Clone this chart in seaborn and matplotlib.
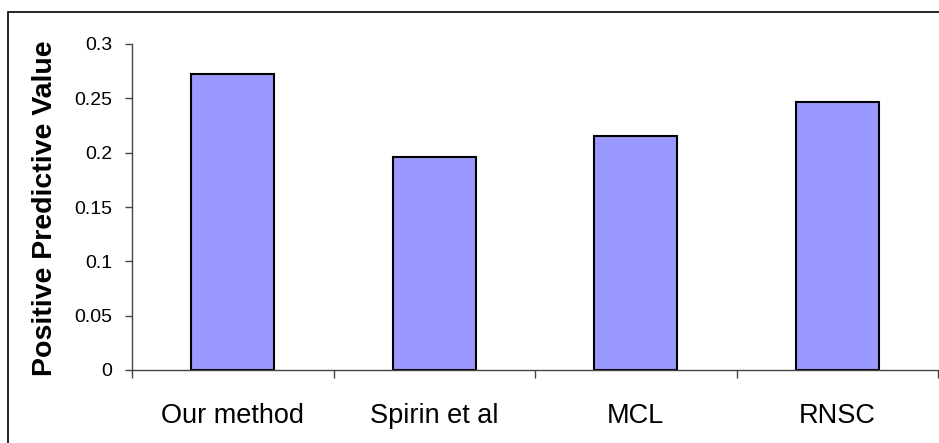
import matplotlib
matplotlib.use("Agg")
import matplotlib.pyplot as plt
import seaborn as sns
import numpy as np
from matplotlib.patches import Rectangle

categories = ["Our method", "Spirin et al", "MCL", "RNSC"]
ppv_values = [0.272, 0.196, 0.215, 0.247]
y_ticks = [0, 0.05, 0.1, 0.15, 0.2, 0.25, 0.3]
y_tick_labels = ["0", "0.05", "0.1", "0.15", "0.2", "0.25", "0.3"]
y_label = "Positive Predictive Value"

sns.set_style("white")
plt.rcParams["font.family"] = ["Liberation Sans", "DejaVu Sans"]

W, H = 939, 443
fig = plt.figure(figsize=(W / 100, H / 100), dpi=100)
ax = fig.add_axes([132 / W, 1 - 370 / H, 806 / W, (370 - 44) / H])

sns.barplot(x=categories, y=ppv_values, color="#9999FF", saturation=1,
            edgecolor="black", linewidth=1.5, width=0.41, ax=ax)

ax.set_xlim(-0.5, len(categories) - 0.5)
ax.set_ylim(0, 0.3)
ax.set_yticks(y_ticks)
ax.set_yticklabels(y_tick_labels)
ax.set_xticks(np.arange(len(categories)))
ax.set_xticklabels(categories)
ax.set_xticks(np.arange(len(categories) + 1) - 0.5, minor=True)

ax.tick_params(axis="x", which="major", length=0, pad=24, labelsize=19.5, colors="black")
ax.tick_params(axis="x", which="minor", length=6, width=1, color="#444444", bottom=True)
ax.tick_params(axis="y", which="major", length=5, width=1, color="#444444",
               pad=9, labelsize=14, labelcolor="black", left=True)

for s in ["top", "right"]:
    ax.spines[s].set_visible(False)
for s in ["left", "bottom"]:
    ax.spines[s].set_color("#444444")
    ax.spines[s].set_linewidth(1)

ax.set_xlabel("")
ax.set_ylabel(y_label, fontsize=20.5, fontweight="bold", color="black")
ax.yaxis.set_label_coords(-0.092, 0.495)

# outer frame
fig.patches.append(Rectangle((8 / W, -0.05), 1.2, 1 - 12 / H + 0.05,
                             transform=fig.transFigure, fill=False,
                             edgecolor="black", linewidth=1.2, zorder=10))

fig.savefig("out.png", dpi=100)
